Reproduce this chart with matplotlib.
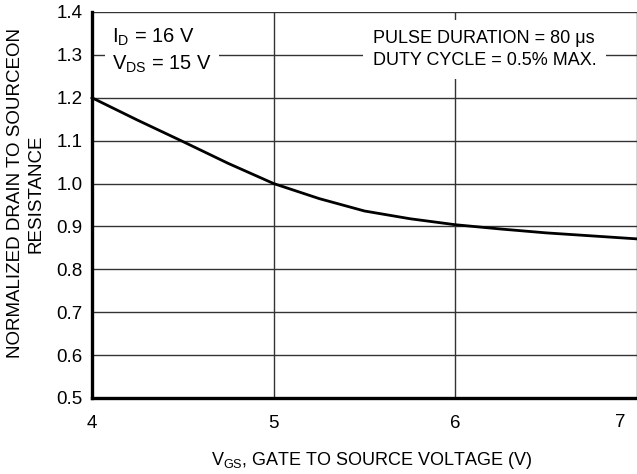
import numpy as np
import matplotlib
matplotlib.use('Agg')
import matplotlib.pyplot as plt

plt.rcParams['font.family'] = ['Liberation Sans', 'DejaVu Sans']
plt.rcParams['mathtext.fontset'] = 'custom'
plt.rcParams['mathtext.rm'] = 'Liberation Sans'
plt.rcParams['mathtext.it'] = 'Liberation Sans'

# curve
vgs = [4.0, 4.25, 4.5, 4.75, 5.0, 5.25, 5.5, 5.75, 6.0, 6.25, 6.5, 6.75, 7.0]
rds = [1.20, 1.148, 1.098, 1.047, 1.0, 0.965, 0.936, 0.918, 0.904, 0.894, 0.885, 0.878, 0.871]

xticks = [4, 5, 6, 7]
xtick_labels = ['4', '5', '6', '7']
yticks = [0.5, 0.6, 0.7, 0.8, 0.9, 1.0, 1.1, 1.2, 1.3, 1.4]
ytick_labels = ['0.5', '0.6', '0.7', '0.8', '0.9', '1.0', '1.1', '1.2', '1.3', '1.4']

W, H = 637, 474
fig = plt.figure(figsize=(W / 100, H / 100), dpi=100)
ax = fig.add_axes([92 / W, (H - 398) / H, (637 - 92) / W, (398 - 12) / H])

ax.set_xlim(4, 7)
ax.set_ylim(0.5, 1.4)
ax.set_xticks(xticks)
# last label sits at the figure edge, so it is drawn by hand a bit to the left
ax.set_xticklabels(xtick_labels[:-1] + [''])
ax.set_yticks(yticks)
ax.set_yticklabels(ytick_labels)
ax.tick_params(length=0, labelsize=13.5)
ax.tick_params(axis='y', pad=7)
ax.tick_params(axis='x', pad=12)
ax.annotate(xtick_labels[-1], xy=(xticks[-1], 0.5), xytext=(-17, -16),
            textcoords='offset pixels', ha='center', va='top', fontsize=13.5,
            annotation_clip=False)

ax.grid(True, color='#333333', linewidth=1.0)
ax.set_axisbelow(True)
for s in ['top', 'right']:
    ax.spines[s].set_visible(False)
for s in ['left', 'bottom']:
    ax.spines[s].set_linewidth(2.4)
    ax.spines[s].set_zorder(5)

ax.plot(vgs, rds, color='black', linewidth=2.0, zorder=4, clip_on=False)

ax.text(4.11, 1.309, r'I$_\mathregular{D}$ = 16 V' + '\n' + r'V$_\mathregular{DS}$ = 15 V',
        fontsize=14.5, va='center', ha='left', linespacing=1.35, zorder=6,
        bbox=dict(facecolor='white', edgecolor='none', pad=5))
ax.text(5.545, 1.3125, 'PULSE DURATION = 80 μs\nDUTY CYCLE = 0.5% MAX.',
        fontsize=13, va='center', ha='left', linespacing=1.45, zorder=6,
        bbox=dict(facecolor='white', edgecolor='none', pad=7))

ax.set_xlabel(r'V$_\mathregular{GS}$, GATE TO SOURCE VOLTAGE (V)', fontsize=13)
ax.set_ylabel('NORMALIZED DRAIN TO SOURCEON\nRESISTANCE', fontsize=13.5, linespacing=1.25)
ax.xaxis.set_label_coords(0.514, -0.135)
ax.yaxis.set_label_coords(-0.088, 0.53)

fig.savefig('out.png', dpi=100)
